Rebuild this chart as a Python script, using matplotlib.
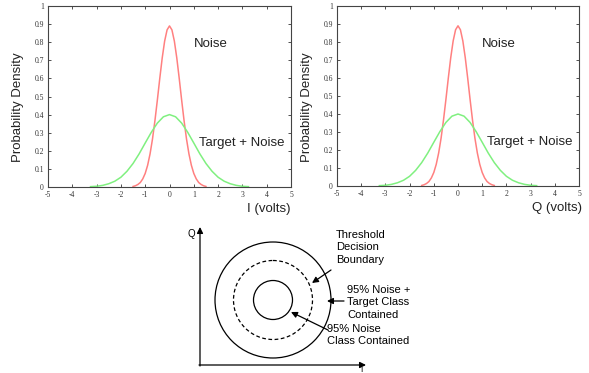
import numpy as np
import matplotlib.pyplot as plt
from matplotlib.patches import Circle

# values
noise_x = [-1.5, -1.4, -1.3, -1.2, -1.1, -1.0, -0.9, -0.8, -0.7, -0.6, -0.5, -0.4, -0.3, -0.2, -0.1,
           0.0, 0.1, 0.2, 0.3, 0.4, 0.5, 0.6, 0.7, 0.8, 0.9, 1.0, 1.1, 1.2, 1.3, 1.4, 1.5]
noise_y = [0.003, 0.007, 0.014, 0.025, 0.045, 0.075, 0.120, 0.183, 0.265, 0.366, 0.480, 0.600, 0.713, 0.806, 0.868,
           0.890, 0.868, 0.806, 0.713, 0.600, 0.480, 0.366, 0.265, 0.183, 0.120, 0.075, 0.045, 0.025, 0.014, 0.007, 0.003]
target_x = [-3.25, -3.0, -2.75, -2.5, -2.25, -2.0, -1.75, -1.5, -1.25, -1.0, -0.75, -0.5, -0.25,
            0.0, 0.25, 0.5, 0.75, 1.0, 1.25, 1.5, 1.75, 2.0, 2.25, 2.5, 2.75, 3.0, 3.25]
target_y = [0.002, 0.004, 0.009, 0.018, 0.032, 0.054, 0.087, 0.130, 0.183, 0.243, 0.302, 0.353, 0.388,
            0.400, 0.388, 0.353, 0.302, 0.243, 0.183, 0.130, 0.087, 0.054, 0.032, 0.018, 0.009, 0.004, 0.002]
xticks = [-5, -4, -3, -2, -1, 0, 1, 2, 3, 4, 5]
xtick_labels = ['-5', '-4', '-3', '-2', '-1', '0', '1', '2', '3', '4', '5']
yticks = [0, 0.1, 0.2, 0.3, 0.4, 0.5, 0.6, 0.7, 0.8, 0.9, 1]
ytick_labels = ['0', '0.1', '0.2', '0.3', '0.4', '0.5', '0.6', '0.7', '0.8', '0.9', '1']
axis_names = ['I (volts)', 'Q (volts)']

plt.rcParams['font.family'] = ['Liberation Sans', 'DejaVu Sans']

fig = plt.figure(figsize=(5.89, 3.73), dpi=100)
W, H = 589.0, 373.0

positions = [[48 / W, 1 - 187 / H, 243 / W, 181 / H],
             [337 / W, 1 - 186 / H, 242 / W, 180 / H]]

for pos, name in zip(positions, axis_names):
    ax = fig.add_axes(pos)
    ax.plot(noise_x, noise_y, color='#ff8080', lw=1.1)
    ax.plot(target_x, target_y, color='#80f080', lw=1.1)
    ax.set_xlim(-5, 5)
    ax.set_ylim(0, 1)
    ax.set_xticks(xticks)
    ax.set_xticklabels(xtick_labels)
    ax.set_yticks(yticks)
    ax.set_yticklabels(ytick_labels)
    ax.tick_params(direction='in', length=2, width=0.6, top=True, right=True,
                   labelsize=5.5, pad=3, colors='#333333')
    for lab in ax.get_xticklabels() + ax.get_yticklabels():
        lab.set_family('Liberation Serif')
    for sp in ax.spines.values():
        sp.set_color('#444444')
        sp.set_linewidth(0.8)
    ax.text(1.0, 0.79, 'Noise', fontsize=9.5, va='center', color='#222222')
    ax.text(1.2, 0.243, 'Target + Noise', fontsize=9.5, va='center', color='#222222')
    ax.text(-0.123, 0.44, 'Probability Density', fontsize=9.5, rotation=90,
            ha='center', va='center', transform=ax.transAxes, color='#222222')
    ax.text(0.91, -0.12, name, fontsize=9.5, ha='center', va='center',
            transform=ax.transAxes, color='#222222')

# bottom diagram in pixel coordinates
dg = fig.add_axes([0, 0, 1, 1])
dg.set_xlim(0, W)
dg.set_ylim(H, 0)
dg.axis('off')
dg.patch.set_alpha(0)

ap = dict(arrowstyle='-|>', color='k', lw=0.9, mutation_scale=9, shrinkA=0, shrinkB=0)
dg.annotate('', xy=(200, 227), xytext=(200, 366), arrowprops=ap)
dg.annotate('', xy=(366, 365), xytext=(199, 365), arrowprops=ap)
dg.text(191, 234, 'Q', fontsize=7, ha='center', va='center')
dg.text(361, 372, 'I', fontsize=6, ha='center', va='baseline')

cx, cy = 273, 300
dg.add_patch(Circle((cx, cy), 58, fill=False, lw=0.9, color='k'))
dg.add_patch(Circle((cx, cy), 39.5, fill=False, lw=0.9, color='k', ls=(0, (3, 2))))
dg.add_patch(Circle((cx, cy), 19.5, fill=False, lw=0.9, color='k'))

dg.text(336, 230, 'Threshold\nDecision\nBoundary', fontsize=8, va='top', linespacing=1.3)
dg.annotate('', xy=(312, 283), xytext=(331, 270), arrowprops=ap)
dg.text(347, 285, '95% Noise +\nTarget Class\nContained', fontsize=8, va='top', linespacing=1.3,
        bbox=dict(facecolor='white', edgecolor='none', pad=1))
dg.annotate('', xy=(327, 301), xytext=(344, 301), arrowprops=ap)
dg.text(327, 324, '95% Noise\nClass Contained', fontsize=8, va='top', linespacing=1.3)
dg.annotate('', xy=(291, 312), xytext=(328, 330), arrowprops=ap)

fig.savefig('out.png', dpi=100)
